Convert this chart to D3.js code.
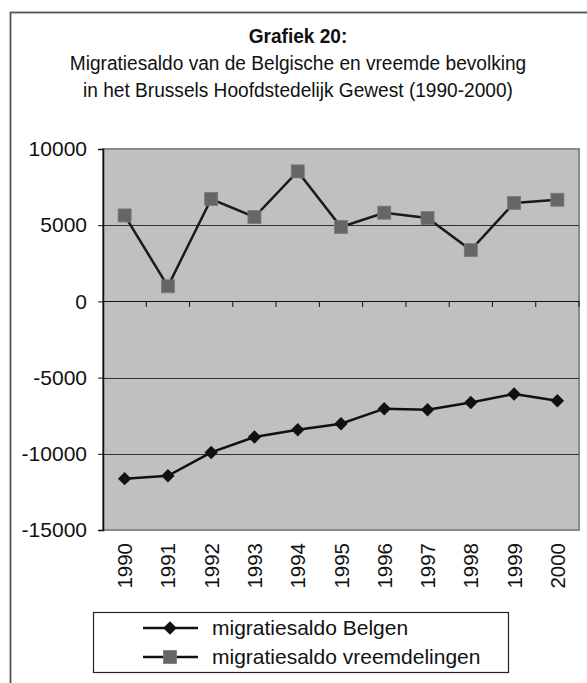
<!DOCTYPE html>
<html>
<head>
<meta charset="utf-8">
<script src="https://cdn.jsdelivr.net/npm/d3@7"></script>
<style>
  body { margin: 0; background: #fff; }
  svg text { font-family: "Liberation Sans", Arial, sans-serif; fill: #111; }
</style>
</head>
<body>
<div id="chart"></div>
<script>
// Data
var years = ["1990","1991","1992","1993","1994","1995","1996","1997","1998","1999","2000"];
var belgen = [-11630,-11440,-9910,-8900,-8420,-8030,-7040,-7110,-6630,-6080,-6520];
var vreemdelingen = [5640,990,6720,5540,8530,4880,5820,5470,3370,6460,6670];
var yTicks = [10000,5000,0,-5000,-10000,-15000];
var titleLines = ["Migratiesaldo van de Belgische en vreemde bevolking",
                  "in het Brussels Hoofdstedelijk Gewest (1990-2000)"];
var legendLabels = ["migratiesaldo Belgen","migratiesaldo vreemdelingen"];

var W = 587, H = 683;
var plot = {left: 103, top: 149, right: 579, bottom: 530};

var svg = d3.select("#chart").append("svg")
  .attr("width", W).attr("height", H);

// outer frame
svg.append("rect")
  .attr("x", 10.5).attr("y", 12.5)
  .attr("width", W + 20).attr("height", H + 20)
  .attr("fill", "none").attr("stroke", "#555").attr("stroke-width", 1.8);

// title (slightly condensed like the original)
var title = svg.append("g").attr("transform", "translate(298,0) scale(0.91,1)");
title.append("text")
  .attr("x", 0).attr("y", 43)
  .attr("text-anchor", "middle")
  .attr("font-size", "21px").attr("font-weight", "bold")
  .text("Grafiek 20:");
title.selectAll(".subtitle").data(titleLines).enter().append("text")
  .attr("class", "subtitle")
  .attr("x", 0).attr("y", (d, i) => 70 + i * 27)
  .attr("text-anchor", "middle")
  .attr("font-size", "21px")
  .text(d => d);

// scales
var x = d3.scaleBand().domain(years).range([plot.left, plot.right]);
var y = d3.scaleLinear().domain([-15000, 10000]).range([plot.bottom, plot.top]);
var cx = d => x(d) + x.bandwidth() / 2;

// plot area
svg.append("rect")
  .attr("x", plot.left).attr("y", plot.top)
  .attr("width", plot.right - plot.left).attr("height", plot.bottom - plot.top)
  .attr("fill", "#c0c0c0").attr("stroke", "#8a8a8a").attr("stroke-width", 2);

// gridlines
svg.selectAll(".grid").data(yTicks.filter(d => d !== 10000 && d !== -15000 && d !== 0))
  .enter().append("line")
  .attr("class", "grid")
  .attr("x1", plot.left).attr("x2", plot.right)
  .attr("y1", d => Math.round(y(d)) + 0.5).attr("y2", d => Math.round(y(d)) + 0.5)
  .attr("stroke", "#333").attr("stroke-width", 1);

// y axis
var yAxis = svg.append("g")
  .attr("transform", "translate(" + plot.left + ",0)")
  .call(d3.axisLeft(y).tickValues(yTicks).tickSize(5).tickPadding(11).tickFormat(d => String(d)));
yAxis.select(".domain").attr("stroke", "#111").attr("stroke-width", 1.5);
yAxis.selectAll(".tick line").attr("stroke", "#111");
yAxis.selectAll("text")
  .style("font-family", "'Liberation Sans', Arial, sans-serif")
  .style("font-size", "21px").attr("fill", "#111");

// x axis on zero line
var xAxis = svg.append("g")
  .attr("transform", "translate(0," + Math.round(y(0)) + ")");
xAxis.append("line")
  .attr("x1", plot.left).attr("x2", plot.right)
  .attr("y1", 0.5).attr("y2", 0.5)
  .attr("stroke", "#111").attr("stroke-width", 1.2);
xAxis.selectAll(".xtick").data(years.slice(1).concat(["end"]))
  .enter().append("line")
  .attr("class", "xtick")
  .attr("x1", d => d === "end" ? plot.right : x(d))
  .attr("x2", d => d === "end" ? plot.right : x(d))
  .attr("y1", 0).attr("y2", 6)
  .attr("stroke", "#111");

// year labels rotated below the plot
svg.selectAll(".year").data(years).enter().append("text")
  .attr("class", "year")
  .attr("transform", d => "translate(" + (cx(d) + 7.5) + "," + (plot.bottom + 13) + ") rotate(-90)")
  .attr("text-anchor", "end")
  .attr("font-size", "20.5px")
  .text(d => d);

// lines
var line = d3.line().x((d, i) => cx(years[i])).y(d => y(d));

svg.append("path").datum(vreemdelingen)
  .attr("d", line).attr("fill", "none")
  .attr("stroke", "#1a1a1a").attr("stroke-width", 2.5);

svg.append("path").datum(belgen)
  .attr("d", line).attr("fill", "none")
  .attr("stroke", "#111").attr("stroke-width", 2.5);

// markers
var sq = 13;
svg.selectAll(".sq").data(vreemdelingen).enter().append("rect")
  .attr("class", "sq")
  .attr("x", (d, i) => cx(years[i]) - sq / 2).attr("y", d => y(d) - sq / 2)
  .attr("width", sq).attr("height", sq)
  .attr("fill", "#666").attr("stroke", "#7a7a7a").attr("stroke-width", 0.8);

var diamond = d3.symbol().type(d3.symbolDiamond2).size(115);
svg.selectAll(".dm").data(belgen).enter().append("path")
  .attr("class", "dm")
  .attr("d", diamond)
  .attr("transform", (d, i) => "translate(" + cx(years[i]) + "," + y(d) + ")")
  .attr("fill", "#111");

// legend
var legend = svg.append("g");
legend.append("rect")
  .attr("x", 93.5).attr("y", 612.5).attr("width", 415).attr("height", 60)
  .attr("fill", "#fff").attr("stroke", "#222").attr("stroke-width", 1.2);

var rows = legend.selectAll(".lg").data(legendLabels).enter().append("g")
  .attr("class", "lg")
  .attr("transform", (d, i) => "translate(0," + (628 + i * 29) + ")");
rows.append("line")
  .attr("x1", 143).attr("x2", 198).attr("y1", 0).attr("y2", 0)
  .attr("stroke", "#111").attr("stroke-width", 2.5);
rows.filter((d, i) => i === 0).append("path")
  .attr("d", diamond).attr("transform", "translate(170,0)").attr("fill", "#111");
rows.filter((d, i) => i === 1).append("rect")
  .attr("x", 170 - sq / 2).attr("y", -sq / 2).attr("width", sq).attr("height", sq)
  .attr("fill", "#666").attr("stroke", "#7a7a7a").attr("stroke-width", 0.8);
rows.append("text")
  .attr("x", 212).attr("y", 0).attr("dy", "0.35em")
  .attr("font-size", "21px")
  .text(d => d);
</script>
</body>
</html>
